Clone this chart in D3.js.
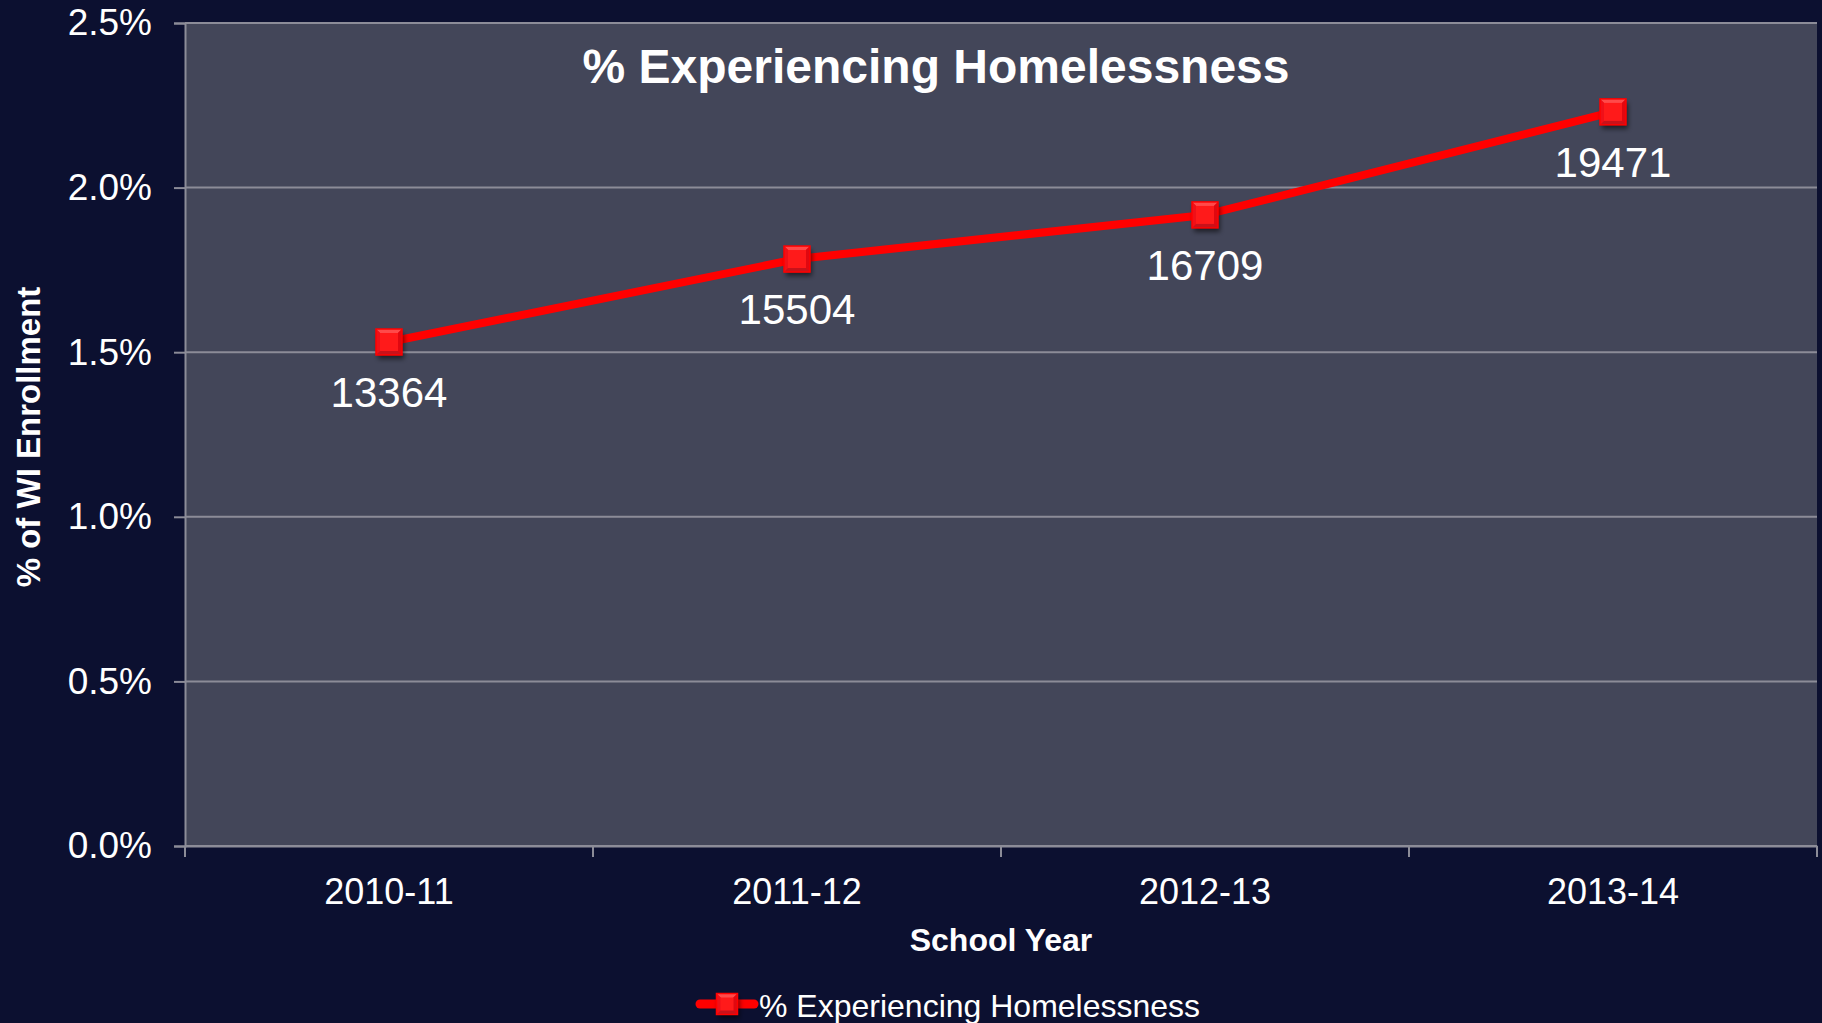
<!DOCTYPE html>
<html>
<head>
<meta charset="utf-8">
<script src="https://cdn.jsdelivr.net/npm/d3@7"></script>
<style>
  html, body { margin: 0; padding: 0; background: #0c1030; }
  text { font-family: "Liberation Sans", Arial, sans-serif; fill: #ffffff; }
</style>
</head>
<body>
<div id="chart"></div>
<script>
// data
var schoolYears = ["2010-11", "2011-12", "2012-13", "2013-14"];
var pctHomeless = [0.01531, 0.01783, 0.01917, 0.02230];
var studentCounts = [13364, 15504, 16709, 19471];
var yTicks = [0, 0.005, 0.01, 0.015, 0.02, 0.025];
var seriesName = "% Experiencing Homelessness";

var svgWidth = 1822;
var svgHeight = 1023;

// plot box in page pixels
var margin = { top: 23, right: 5, bottom: 177, left: 185 };
var chartWidth = svgWidth - margin.left - margin.right;
var chartHeight = svgHeight - margin.top - margin.bottom;

var svg = d3.select("#chart")
  .append("svg")
  .attr("width", svgWidth)
  .attr("height", svgHeight);

svg.append("rect")
  .attr("width", svgWidth)
  .attr("height", svgHeight)
  .attr("fill", "#0c1030");

// shadow under the markers
var defs = svg.append("defs");
var shadow = defs.append("filter").attr("id", "shadow")
  .attr("x", "-50%").attr("y", "-50%").attr("width", "200%").attr("height", "200%");
shadow.append("feDropShadow")
  .attr("dx", 2).attr("dy", 4).attr("stdDeviation", 2.5)
  .attr("flood-color", "#000").attr("flood-opacity", 0.55);

var chartGroup = svg.append("g")
  .attr("transform", `translate(${margin.left}, ${margin.top})`);

chartGroup.append("rect")
  .attr("width", chartWidth)
  .attr("height", chartHeight)
  .attr("fill", "#434659");

// scales
var xScale = d3.scaleBand()
  .domain(schoolYears)
  .range([0, chartWidth])
  .padding(0);

var yScale = d3.scaleLinear()
  .domain([0, 0.025])
  .range([chartHeight, 0]);

// gridlines
chartGroup.append("g")
  .selectAll("line")
  .data(yTicks)
  .enter()
  .append("line")
  .attr("x1", 0)
  .attr("x2", chartWidth)
  .attr("y1", d => yScale(d))
  .attr("y2", d => yScale(d))
  .attr("stroke", "#8c8c98")
  .attr("stroke-width", 2);

// y axis
var leftAxis = d3.axisLeft(yScale)
  .tickValues(yTicks)
  .tickFormat(d3.format(".1%"))
  .tickSize(11)
  .tickPadding(22);

var yAxisG = chartGroup.append("g").call(leftAxis);
yAxisG.select(".domain").attr("stroke", "#8c8c98").attr("stroke-width", 2);
yAxisG.selectAll(".tick line").attr("stroke", "#8c8c98").attr("stroke-width", 2);
yAxisG.selectAll(".tick text")
  .attr("font-size", "37px")
  .attr("fill", "#fff")
  .style("font-family", "'Liberation Sans', Arial, sans-serif");

// x axis: labels at band centres, tick marks at band edges
var bottomAxis = d3.axisBottom(xScale).tickSize(0).tickPadding(32);
var xAxisG = chartGroup.append("g")
  .attr("transform", `translate(0, ${chartHeight})`)
  .call(bottomAxis);
xAxisG.select(".domain").attr("stroke", "#8c8c98").attr("stroke-width", 2);
xAxisG.selectAll(".tick text")
  .attr("font-size", "36px")
  .attr("fill", "#fff")
  .style("font-family", "'Liberation Sans', Arial, sans-serif");

var edges = d3.range(schoolYears.length + 1).map(i => i * xScale.step());
xAxisG.selectAll(".edge")
  .data(edges)
  .enter()
  .append("line")
  .attr("class", "edge")
  .attr("x1", d => d)
  .attr("x2", d => d)
  .attr("y1", 0)
  .attr("y2", 11)
  .attr("stroke", "#8c8c98")
  .attr("stroke-width", 2);

// line
var points = schoolYears.map((y, i) => ({ year: y, pct: pctHomeless[i], count: studentCounts[i] }));
var cx = d => xScale(d.year) + xScale.bandwidth() / 2;

var line = d3.line()
  .x(cx)
  .y(d => yScale(d.pct));

chartGroup.append("path")
  .datum(points)
  .attr("d", line)
  .attr("fill", "none")
  .attr("stroke", "#ff0000")
  .attr("stroke-width", 8)
  .attr("stroke-linejoin", "round")
  .attr("stroke-linecap", "round");

// bevelled square markers
function drawMarker(g, s) {
  var h = s / 2, k = s / 2 - 4;
  g.append("rect")
    .attr("x", -h).attr("y", -h).attr("width", s).attr("height", s)
    .attr("fill", "#e8000a")
    .attr("filter", "url(#shadow)");
  g.append("path").attr("d", `M${-h},${-h}L${h},${-h}L0,0Z`).attr("fill", "#ff4a4a");
  g.append("path").attr("d", `M${-h},${h}L${h},${h}L0,0Z`).attr("fill", "#c8121a");
  g.append("path").attr("d", `M${-h},${-h}L${-h},${h}L0,0Z`).attr("fill", "#f01018");
  g.append("path").attr("d", `M${h},${-h}L${h},${h}L0,0Z`).attr("fill", "#e00810");
  g.append("rect")
    .attr("x", -k).attr("y", -k).attr("width", 2 * k).attr("height", 2 * k)
    .attr("fill", "#ff1a1a");
  g.append("rect")
    .attr("x", -h).attr("y", -h).attr("width", s).attr("height", s)
    .attr("fill", "none").attr("stroke", "#ff0000").attr("stroke-width", 1.5);
}

chartGroup.selectAll(".marker")
  .data(points)
  .enter()
  .append("g")
  .attr("class", "marker")
  .attr("transform", d => `translate(${cx(d)}, ${yScale(d.pct)})`)
  .each(function() { drawMarker(d3.select(this), 26); });

// data labels
chartGroup.selectAll(".dlabel")
  .data(points)
  .enter()
  .append("text")
  .attr("class", "dlabel")
  .attr("x", cx)
  .attr("y", d => yScale(d.pct) + 65)
  .attr("text-anchor", "middle")
  .attr("font-size", "42px")
  .text(d => d.count);

// chart title
svg.append("text")
  .attr("x", 936)
  .attr("y", 83)
  .attr("text-anchor", "middle")
  .attr("font-size", "48px")
  .attr("font-weight", "bold")
  .text(seriesName);

// axis titles
svg.append("text")
  .attr("x", margin.left + chartWidth / 2)
  .attr("y", 951)
  .attr("text-anchor", "middle")
  .attr("font-size", "32px")
  .attr("font-weight", "bold")
  .text("School Year");

svg.append("text")
  .attr("transform", `translate(40, 437) rotate(-90)`)
  .attr("text-anchor", "middle")
  .attr("font-size", "33px")
  .attr("font-weight", "bold")
  .text("% of WI Enrollment");

// legend
var legend = svg.append("g").attr("transform", "translate(727, 1004)");
legend.append("line")
  .attr("x1", -27).attr("x2", 27)
  .attr("stroke", "#ff0000")
  .attr("stroke-width", 9)
  .attr("stroke-linecap", "round");
drawMarker(legend.append("g"), 21);
legend.append("text")
  .attr("x", 32)
  .attr("y", 13)
  .attr("font-size", "32px")
  .text(seriesName);
</script>
</body>
</html>
